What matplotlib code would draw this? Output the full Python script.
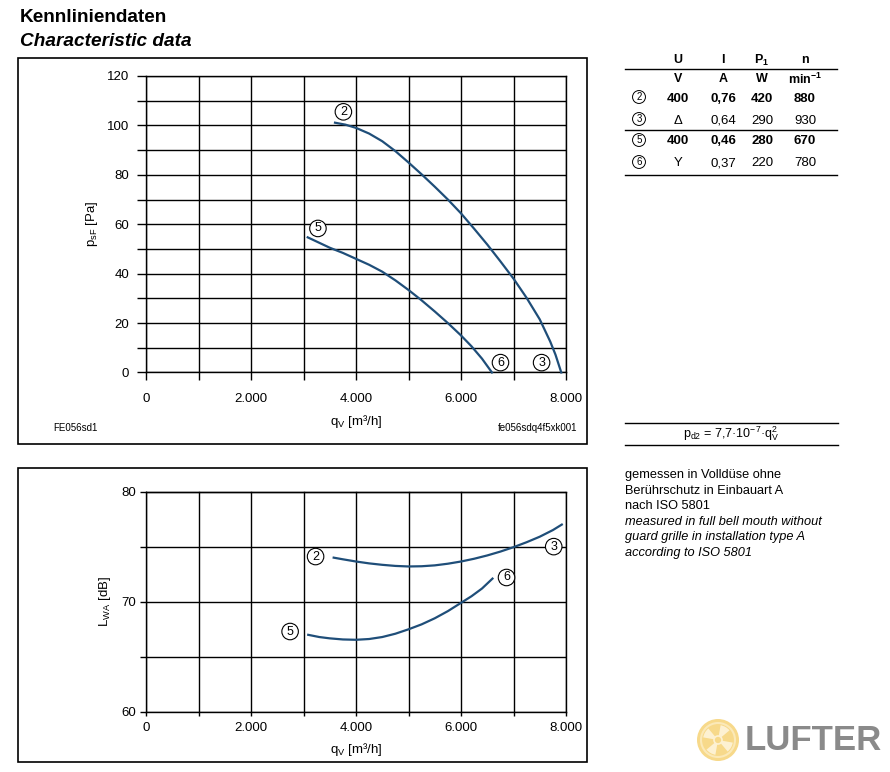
import matplotlib
matplotlib.use("Agg")
import matplotlib.pyplot as plt
from matplotlib.patches import Rectangle, Circle, Wedge
from matplotlib.ticker import MultipleLocator, FuncFormatter

plt.rcParams['font.family'] = ['Liberation Sans', 'DejaVu Sans']
plt.rcParams['mathtext.fontset'] = 'custom'
plt.rcParams['mathtext.rm'] = 'Liberation Sans'
plt.rcParams['mathtext.it'] = 'Liberation Sans:italic'

# ---------------- data ----------------
# pressure curves (qV in m3/h, psF in Pa)
p23_q = [3600, 3800, 4000, 4250, 4500, 4750, 5000, 5250, 5500, 5750, 6000, 6250,
         6500, 6750, 7000, 7250, 7500, 7700, 7800, 7910]
p23_p = [101.1, 100.3, 99.0, 96.7, 93.6, 89.6, 85.0, 80.2, 75.2, 70.0, 64.4, 58.2,
         51.8, 45.0, 38.0, 30.2, 21.5, 12.5, 7.2, 0.0]
p56_q = [3080, 3300, 3500, 3750, 4000, 4250, 4500, 4750, 5000, 5250, 5500, 5750,
         6000, 6200, 6400, 6590]
p56_p = [54.7, 52.5, 50.5, 48.4, 46.0, 43.6, 40.8, 37.3, 33.4, 29.2, 24.7, 20.0,
         15.0, 10.6, 5.6, 0.0]

# sound power curves (qV in m3/h, LwA in dB)
s23_q = [3575, 3750, 4000, 4250, 4500, 4750, 5000, 5250, 5500, 5750, 6000, 6250,
         6500, 6750, 7000, 7250, 7500, 7750, 7920]
s23_l = [74.0, 73.85, 73.65, 73.48, 73.35, 73.25, 73.2, 73.22, 73.3, 73.45, 73.65,
         73.9, 74.2, 74.55, 74.95, 75.4, 75.9, 76.5, 77.0]
s56_q = [3090, 3300, 3500, 3750, 4000, 4250, 4500, 4750, 5000, 5250, 5500, 5750,
         6000, 6200, 6400, 6600]
s56_l = [67.0, 66.8, 66.68, 66.58, 66.55, 66.62, 66.8, 67.1, 67.5, 67.95, 68.5,
         69.15, 69.9, 70.5, 71.2, 72.1]

# curve label positions (qV, value)
p_labels = [("2", 3760, 105.5), ("5", 3275, 58.3), ("6", 6752, 4.0), ("3", 7535, 4.0)]
s_labels = [("2", 3230, 74.1), ("5", 2745, 67.3), ("6", 6867, 72.2), ("3", 7766, 75.0)]

# table
table_header = ["U", "I", r"P$_\mathregular{1}$", "n"]
table_units = ["V", "A", "W", r"min$^{\mathregular{-1}}$"]
table_ids = ["2", "3", "5", "6"]
table_rows = [["400", "0,76", "420", "880"],
              ["Δ", "0,64", "290", "930"],
              ["400", "0,46", "280", "670"],
              ["Y", "0,37", "220", "780"]]
table_bold = [True, False, True, False]

notes = ["gemessen in Volldüse ohne", "Berührschutz in Einbauart A", "nach ISO 5801",
         "measured in full bell mouth without", "guard grille in installation type A",
         "according to ISO 5801"]
notes_italic = [False, False, False, True, True, True]

W, H = 890, 772
LINE_C = '#1f4e79'

fig = plt.figure(figsize=(W / 100, H / 100), dpi=100)


def fx(x):
    return x / W


def fy(y):
    return 1 - y / H


def thou(v, pos):
    v = int(round(v))
    if v == 0:
        return "0"
    return f"{v // 1000}.{v % 1000:03d}"


def style_axes(ax, ytl, ypad, xtl, xpad):
    ax.set_xlim(0, 8000)
    ax.xaxis.set_major_locator(MultipleLocator(2000))
    ax.xaxis.set_minor_locator(MultipleLocator(1000))
    ax.xaxis.set_major_formatter(FuncFormatter(thou))
    ax.grid(True, which='both', color='black', lw=1.0)
    ax.set_axisbelow(True)
    for s in ax.spines.values():
        s.set_color('black')
        s.set_linewidth(1.0)
    ax.tick_params(axis='y', which='both', direction='out', length=ytl, width=1.0,
                   pad=ypad, labelsize=9.5)
    ax.tick_params(axis='x', which='both', direction='out', length=xtl, width=1.0,
                   pad=xpad, labelsize=9.5)


def circ_label(ax, txt, x, y, size=9):
    ax.text(x, y, txt, ha='center', va='center', fontsize=size, zorder=5,
            bbox=dict(boxstyle='circle,pad=0.18', fc='white', ec='black', lw=0.8))


# ---------------- top chart ----------------
ax1 = fig.add_axes([fx(146), fy(372.5), fx(566) - fx(146), (372.5 - 76) / H])
style_axes(ax1, 6.5, 5.5, 6.0, 8.5)
ax1.set_ylim(0, 120)
ax1.yaxis.set_major_locator(MultipleLocator(20))
ax1.yaxis.set_minor_locator(MultipleLocator(10))
ax1.plot(p23_q, p23_p, color=LINE_C, lw=1.6, zorder=4, clip_on=False)
ax1.plot(p56_q, p56_p, color=LINE_C, lw=1.6, zorder=4, clip_on=False)
for t, x, y in p_labels:
    circ_label(ax1, t, x, y)
ax1.set_ylabel(r"p$_\mathregular{sF}$ [Pa]", fontsize=9.5)
ax1.yaxis.set_label_coords((100 - 146) / 420, 0.5)
ax1.set_xlabel(r"q$_\mathregular{V}$ [m³/h]", fontsize=9.5)
ax1.xaxis.set_label_coords(0.5, -(413 - 372.5) / 296)

# ---------------- bottom chart ----------------
ax2 = fig.add_axes([fx(146), fy(712), fx(566) - fx(146), (712 - 491.5) / H])
style_axes(ax2, 4.0, 3.0, 3.0, 4.5)
ax2.set_ylim(60, 80)
ax2.yaxis.set_major_locator(MultipleLocator(10))
ax2.yaxis.set_minor_locator(MultipleLocator(5))
ax2.plot(s23_q, s23_l, color=LINE_C, lw=1.6, zorder=4)
ax2.plot(s56_q, s56_l, color=LINE_C, lw=1.6, zorder=4)
for t, x, y in s_labels:
    circ_label(ax2, t, x, y)
ax2.set_ylabel(r"L$_\mathregular{WA}$ [dB]", fontsize=9.5)
ax2.yaxis.set_label_coords((113 - 146) / 420, 0.5)
ax2.set_xlabel(r"q$_\mathregular{V}$ [m³/h]", fontsize=9.5)
ax2.xaxis.set_label_coords(0.5, -(741 - 712) / 220.5)

# ---------------- frames ----------------
for (x0, y0, x1, y1) in [(18, 58, 587, 444), (18, 468, 587, 762)]:
    fig.add_artist(Rectangle((fx(x0), fy(y1)), fx(x1) - fx(x0), (y1 - y0) / H,
                             transform=fig.transFigure, fill=False, ec='black', lw=1.2))

fig.text(fx(20), fy(17), "Kennliniendaten", fontsize=13.7, fontweight='bold',
         ha='left', va='center')
fig.text(fx(20), fy(41), "Characteristic data", fontsize=13.7, fontweight='bold',
         style='italic', ha='left', va='center')
fig.text(fx(53), fy(428), "FE056sd1", fontsize=7, ha='left', va='center')
fig.text(fx(577), fy(428), "fe056sdq4f5xk001", fontsize=7, ha='right', va='center')

# ---------------- table ----------------
col_x = [678, 723, 762, 805]
for i, h in enumerate(table_header):
    fig.text(fx(col_x[i]), fy(60), h, fontsize=9, fontweight='bold', ha='center', va='center')
for i, u in enumerate(table_units):
    fig.text(fx(col_x[i]), fy(79), u, fontsize=9, fontweight='bold', ha='center', va='center')
row_y = [97, 119, 140, 162]
for r, (rid, vals, b) in enumerate(zip(table_ids, table_rows, table_bold)):
    fig.text(fx(639), fy(row_y[r]), rid, fontsize=7, ha='center', va='center',
             bbox=dict(boxstyle='circle,pad=0.15', fc='white', ec='black', lw=0.7))
    for i, v in enumerate(vals):
        fig.text(fx(col_x[i]), fy(row_y[r]), v, fontsize=9.5,
                 fontweight='bold' if b else 'normal', ha='center', va='center_baseline')
for yy in [69, 130, 175]:
    fig.add_artist(plt.Line2D([fx(625), fx(837)], [fy(yy), fy(yy)],
                              transform=fig.transFigure, color='black', lw=1.0))

# formula
for yy in [423, 445]:
    fig.add_artist(plt.Line2D([fx(625), fx(838)], [fy(yy), fy(yy)],
                              transform=fig.transFigure, color='black', lw=1.0))
fig.text(fx(731), fy(434), r"p$_\mathregular{d2}$ = 7,7·10$^\mathregular{-7}$·q$_\mathregular{V}^\mathregular{2}$",
         fontsize=9, ha='center', va='center')

# notes
for i, (t, it) in enumerate(zip(notes, notes_italic)):
    fig.text(fx(625), fy(475 + i * 15.6), t, fontsize=9.2,
             style='italic' if it else 'normal', ha='left', va='center')

# ---------------- logo watermark ----------------
lax = fig.add_axes([fx(690), fy(770), fx(890) - fx(690), 60 / H])
lax.set_xlim(690, 890)
lax.set_ylim(770, 710)
lax.axis('off')
lax.set_aspect('equal')
lax.add_patch(Circle((718, 740), 21, fc='#f7d98a', ec='none'))
lax.add_patch(Circle((718, 740), 17, fc='none', ec='#fbe9b8', lw=1.5))
for a in [0, 90, 180, 270]:
    lax.add_patch(Wedge((718, 740), 15, a + 10, a + 50, fc='#fdf1d2', ec='none'))
lax.add_patch(Circle((718, 740), 4, fc='#f7d98a', ec='#fdf1d2', lw=1.2))
lax.text(745, 741, "LUFTER", fontsize=25, fontweight='bold', color='#8a8a8a',
         ha='left', va='center')

fig.savefig("out.png", dpi=100)
